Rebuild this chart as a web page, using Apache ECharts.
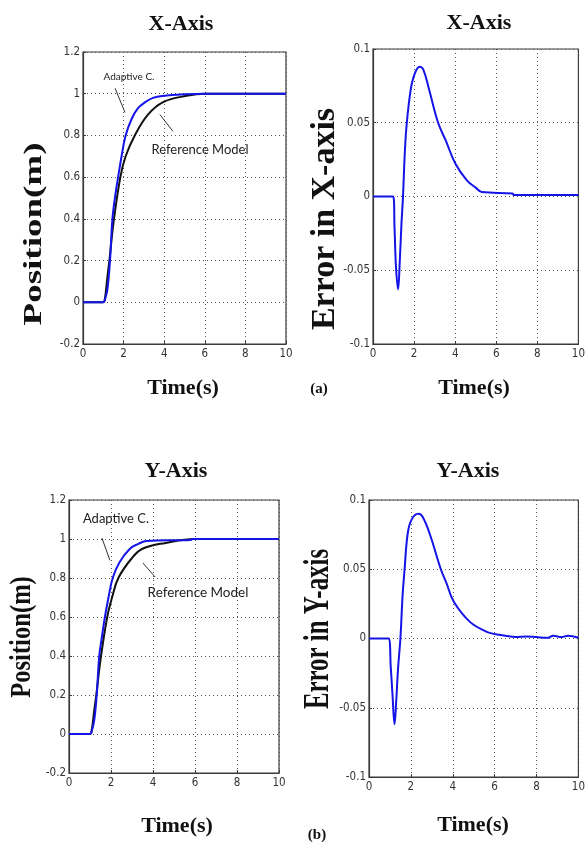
<!DOCTYPE html>
<html>
<head>
<meta charset="utf-8">
<script src="https://cdn.jsdelivr.net/npm/echarts@6/dist/echarts.min.js"></script>
<style>html,body{margin:0;padding:0;background:#fff}#c{width:588px;height:842px}</style>
</head>
<body>
<div id="c"></div>
<script>
// ---------- data ----------
// (a) X-axis position
const tAdaptX = [0, 1.0, 1.07, 1.2, 1.33, 1.45, 1.6, 1.73, 1.9, 2.1, 2.4, 2.7, 3.0, 3.45, 4.0, 5.0, 6.0, 10];
const posAdaptX = [0, 0, 0.01, 0.06, 0.2, 0.4, 0.52, 0.6, 0.7, 0.8, 0.88, 0.93, 0.955, 0.98, 0.99, 0.997, 1, 1];
const tRefX = [0, 1.0, 1.07, 1.2, 1.3, 1.5, 1.84, 2.1, 2.55, 3.2, 3.95, 5.1, 6.0, 10];
const posRefX = [0, 0, 0.01, 0.12, 0.2, 0.38, 0.6, 0.7, 0.8, 0.9, 0.96, 0.99, 1, 1];
// (a) X-axis error
const tErrX = [0, 0.98, 1.05, 1.12, 1.22, 1.3, 1.38, 1.46, 1.55, 1.64, 1.83, 2.0, 2.26, 2.45, 2.74, 3.17, 3.54, 4.02, 4.57, 5.0, 5.3, 6.8, 6.85, 10];
const errX = [0, 0, -0.022, -0.048, -0.063, -0.045, -0.02, 0.0, 0.03, 0.049, 0.072, 0.082, 0.088, 0.086, 0.072, 0.05, 0.038, 0.022, 0.011, 0.006, 0.003, 0.002, 0.001, 0.001];
// (b) Y-axis position
const tAdaptY = [0, 1.0, 1.07, 1.2, 1.32, 1.44, 1.57, 1.71, 1.88, 2.08, 2.4, 2.9, 3.3, 3.7, 5.8, 5.85, 10];
const posAdaptY = [0, 0, 0.01, 0.07, 0.2, 0.4, 0.5, 0.6, 0.7, 0.8, 0.88, 0.95, 0.975, 0.99, 0.995, 1, 1];
const tRefY = [0, 1.0, 1.07, 1.2, 1.3, 1.5, 1.82, 2.05, 2.35, 2.98, 3.5, 4.6, 6.0, 10];
const posRefY = [0, 0, 0.01, 0.12, 0.2, 0.38, 0.6, 0.7, 0.8, 0.9, 0.95, 0.98, 1, 1];
// (b) Y-axis error
const tErrY = [0, 0.93, 1.04, 1.12, 1.22, 1.3, 1.39, 1.5, 1.6, 1.7, 1.85, 2.04, 2.35, 2.55, 2.89, 3.43, 3.7, 4.05, 4.82, 5.6, 6.06, 6.5, 7.0, 7.5, 8.0, 8.5, 8.8, 9.2, 9.5, 10];
const errY = [0, 0, -0.021, -0.04, -0.062, -0.045, -0.021, 0.0, 0.03, 0.05, 0.076, 0.086, 0.09, 0.088, 0.076, 0.05, 0.04, 0.0265, 0.012, 0.005, 0.003, 0.002, 0.001, 0.0015, 0.001, 0.0005, 0.002, 0.001, 0.002, 0.0005];

// tick labels
const timeTicks = ['0', '2', '4', '6', '8', '10'];
const posTicks = ['-0.2', '0', '0.2', '0.4', '0.6', '0.8', '1', '1.2'];
const errTicks = ['-0.1', '-0.05', '0', '0.05', '0.1'];

// annotation arrows (data coordinates: [from, to])
const arrowAdaptX = [[1.58, 1.026], [2.07, 0.91]];
const arrowRefX = [[4.43, 0.82], [3.79, 0.90]];
const arrowAdaptY = [[1.57, 1.005], [1.95, 0.89]];
const arrowRefY = [[4.1, 0.805], [3.52, 0.877]];

// ---------- chart ----------
const pairs = (t, v) => t.map((x, i) => [x, v[i]]);
const num = a => a.map(Number);
function rangeOf(ticks) {
  const n = num(ticks);
  return { min: n[0], max: n[n.length - 1], interval: +(n[1] - n[0]).toFixed(6) };
}
const BLUE = '#1414e8';
const tickFont = "'Liberation Sans Narrow','DejaVu Sans Condensed','Liberation Sans',sans-serif";
const serif = "'Liberation Serif','Times New Roman',serif";
const annFont = "Lato,'Noto Sans',sans-serif";

const grids = [
  { left: 83, top: 52, width: 203, height: 292 },
  { left: 373, top: 49, width: 208, height: 295 },
  { left: 69, top: 500, width: 210, height: 273 },
  { left: 369, top: 500, width: 216, height: 277 }
].map(g => Object.assign(g, { show: true, borderColor: '#3a3a3a', borderWidth: 1.2, backgroundColor: '#fff' }));

const split = { show: true, lineStyle: { color: '#555', width: 1, type: [1, 3] } };
function xAx(i) {
  const r = rangeOf(timeTicks);
  return {
    gridIndex: i, type: 'value', min: r.min, max: r.max, interval: r.interval,
    axisLine: { show: true, onZero: false, lineStyle: { color: '#3a3a3a', width: 1.2 } },
    axisTick: { show: true, inside: true, length: 3, lineStyle: { color: '#3a3a3a' } },
    axisLabel: { color: '#333', fontFamily: tickFont, fontSize: 11.5, margin: 4 },
    splitLine: split
  };
}
function yAx(i, ticks) {
  const r = rangeOf(ticks);
  return {
    gridIndex: i, type: 'value', min: r.min, max: r.max, interval: r.interval,
    axisLine: { show: true, onZero: false, lineStyle: { color: '#3a3a3a', width: 1.2 } },
    axisTick: { show: true, inside: true, length: 3, lineStyle: { color: '#3a3a3a' } },
    axisLabel: {
      color: '#333', fontFamily: tickFont, fontSize: 11.5, margin: 3,
      formatter: v => { const n = num(ticks); let best = 0; n.forEach((x, k) => { if (Math.abs(x - v) < Math.abs(n[best] - v)) best = k; }); return ticks[best]; }
    },
    splitLine: split
  };
}
function arrows(list) {
  return {
    silent: true, animation: false, symbol: ['none', 'arrow'], symbolSize: [0, 7],
    lineStyle: { color: '#333', width: 1, type: 'solid' }, label: { show: false },
    data: list.map(a => [{ coord: a[0] }, { coord: a[1] }])
  };
}
function line(i, data, color, extra) {
  return Object.assign({
    type: 'line', xAxisIndex: i, yAxisIndex: i, data: data, showSymbol: false, symbol: 'none',
    smooth: 0.4, lineStyle: { color: color, width: 2 }, itemStyle: { color: color }, animation: false
  }, extra || {});
}

function txt(text, x, y, font, opts, fill) {
  return Object.assign({
    type: 'text', x: x, y: y, silent: true, z: 100,
    style: { text: text, font: font, fill: fill || '#111', align: 'center', verticalAlign: 'middle' }
  }, opts || {});
}

const option = {
  animation: false,
  backgroundColor: '#fff',
  grid: grids,
  xAxis: [xAx(0), xAx(1), xAx(2), xAx(3)],
  yAxis: [yAx(0, posTicks), yAx(1, errTicks), yAx(2, posTicks), yAx(3, errTicks)],
  series: [
    line(0, pairs(tRefX, posRefX), '#111', { markLine: arrows([arrowAdaptX, arrowRefX]) }),
    line(0, pairs(tAdaptX, posAdaptX), BLUE),
    line(1, pairs(tErrX, errX), BLUE),
    line(2, pairs(tRefY, posRefY), '#111', { markLine: arrows([arrowAdaptY, arrowRefY]) }),
    line(2, pairs(tAdaptY, posAdaptY), BLUE),
    line(3, pairs(tErrY, errY), BLUE)
  ],
  graphic: [
    txt('X-Axis', 181, 24, 'bold 22px ' + serif),
    txt('X-Axis', 479, 23, 'bold 22px ' + serif),
    txt('Y-Axis', 176, 471, 'bold 22px ' + serif),
    txt('Y-Axis', 468, 471, 'bold 22px ' + serif),
    txt('Time(s)', 183, 388, 'bold 22px ' + serif),
    txt('Time(s)', 474, 388, 'bold 22px ' + serif),
    txt('Time(s)', 177, 826, 'bold 22px ' + serif),
    txt('Time(s)', 473, 825, 'bold 22px ' + serif),
    txt('(a)', 319, 389, 'bold 15px ' + serif),
    txt('(b)', 317, 835, 'bold 15px ' + serif),
    txt('Position(m)', 35, 234, 'bold 25px ' + serif, { rotation: Math.PI / 2, scaleX: 1.48 }),
    txt('Error in X-axis', 325, 219, 'bold 33px ' + serif, { rotation: Math.PI / 2, scaleX: 1.03 }),
    txt('Position(m)', 22, 637, 'bold 30px ' + serif, { rotation: Math.PI / 2, scaleX: 0.82 }),
    txt('Error in Y-axis', 319, 629, 'bold 36px ' + serif, { rotation: Math.PI / 2, scaleX: 0.69 }),
    txt('Adaptive C.', 129, 77, '10px ' + annFont, null, '#222'),
    txt('Reference Model', 200, 150, '13px ' + annFont, null, '#222'),
    txt('Adaptive C.', 116, 519, '13px ' + annFont, null, '#222'),
    txt('Reference Model', 198, 593, '13.5px ' + annFont, null, '#222')
  ]
};
const chart = echarts.init(document.getElementById('c'), null, { renderer: 'canvas', width: 588, height: 842 });
chart.setOption(option);
</script>
</body>
</html>
